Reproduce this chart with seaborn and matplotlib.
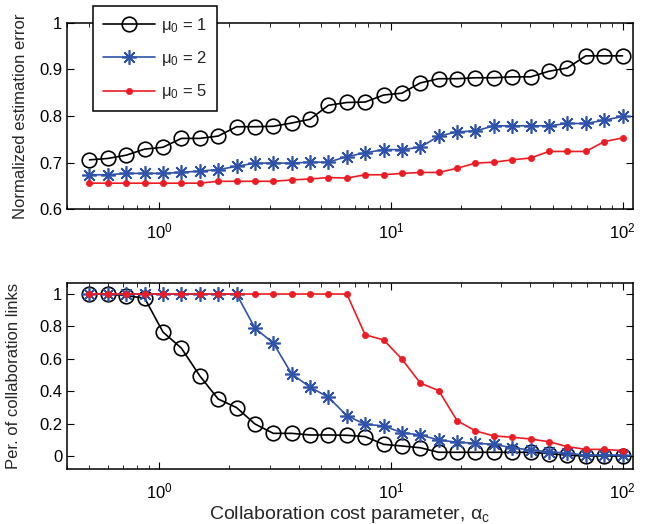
import numpy as np
import pandas as pd
import matplotlib
import matplotlib.pyplot as plt
import seaborn as sns
matplotlib.use("Agg")

sns.set_style("ticks")
plt.rcParams['font.family'] = ['Liberation Sans', 'DejaVu Sans']
plt.rcParams['mathtext.fontset'] = 'custom'
plt.rcParams['mathtext.rm'] = 'Liberation Sans'
plt.rcParams['mathtext.it'] = 'Liberation Sans:italic'
plt.rcParams['mathtext.sf'] = 'Liberation Sans'

# collaboration cost parameter, 30 log-spaced points from 0.5 to 100
alpha_c = np.logspace(np.log10(0.5), 2, 30)

# normalized estimation error
err_mu1 = [0.706, 0.709, 0.716, 0.729, 0.733, 0.752, 0.752, 0.757, 0.777, 0.777,
           0.778, 0.785, 0.793, 0.823, 0.829, 0.830, 0.845, 0.849, 0.871, 0.880,
           0.880, 0.882, 0.882, 0.884, 0.884, 0.896, 0.903, 0.929, 0.929, 0.929]
err_mu2 = [0.674, 0.674, 0.677, 0.677, 0.677, 0.679, 0.682, 0.685, 0.692, 0.699,
           0.699, 0.699, 0.701, 0.701, 0.713, 0.721, 0.728, 0.728, 0.733, 0.757,
           0.766, 0.768, 0.779, 0.779, 0.779, 0.779, 0.784, 0.784, 0.791, 0.799]
err_mu5 = [0.656, 0.656, 0.656, 0.656, 0.656, 0.656, 0.656, 0.660, 0.660, 0.660,
           0.660, 0.663, 0.665, 0.668, 0.667, 0.674, 0.674, 0.677, 0.679, 0.679,
           0.688, 0.699, 0.701, 0.706, 0.710, 0.724, 0.724, 0.724, 0.745, 0.753]

# percentage of collaboration links
links_mu1 = [1.0, 1.0, 0.99, 0.975, 0.765, 0.666, 0.495, 0.352, 0.299, 0.198,
             0.140, 0.140, 0.130, 0.130, 0.128, 0.120, 0.072, 0.062, 0.051, 0.023,
             0.023, 0.023, 0.023, 0.023, 0.023, 0.015, 0.005, 0.0, 0.0, 0.0]
links_mu2 = [1.0, 1.0, 1.0, 1.0, 1.0, 1.0, 1.0, 1.0, 1.0, 0.79,
             0.697, 0.507, 0.425, 0.363, 0.249, 0.196, 0.186, 0.144, 0.130, 0.099,
             0.085, 0.079, 0.072, 0.051, 0.037, 0.027, 0.017, 0.006, 0.006, 0.006]
links_mu5 = [1.0, 1.0, 1.0, 1.0, 1.0, 1.0, 1.0, 1.0, 1.0, 1.0,
             1.0, 1.0, 1.0, 1.0, 1.0, 0.748, 0.717, 0.598, 0.450, 0.404,
             0.218, 0.155, 0.124, 0.116, 0.105, 0.088, 0.058, 0.041, 0.041, 0.033]

labels = [r'$\mathrm{\mu}_0$ = 1', r'$\mathrm{\mu}_0$ = 2', r'$\mathrm{\mu}_0$ = 5']
colors = ['black', '#2f52aa', '#ec1c24']
styles = [
    dict(marker='o', markersize=10.5, markerfacecolor='none', markeredgewidth=1.2),
    dict(marker=(8, 2, 0), markersize=10.5, markeredgewidth=1.2),
    dict(marker='o', markersize=4.5, markeredgewidth=0.5),
]

fig = plt.figure(figsize=(6.47, 5.24), dpi=100)
ax1 = fig.add_axes([0.1036, 0.6006, 0.8748, 0.356])
ax2 = fig.add_axes([0.1036, 0.105, 0.8748, 0.3555])

for ys, lab, c, st in zip([err_mu1, err_mu2, err_mu5], labels, colors, styles):
    sns.lineplot(x=alpha_c, y=ys, ax=ax1, label=lab, linewidth=1.2, color=c,
                 markeredgecolor=c, **st)
for ys, c, st in zip([links_mu1, links_mu2, links_mu5], colors, styles):
    sns.lineplot(x=alpha_c, y=ys, ax=ax2, linewidth=1.2, legend=False, color=c,
                 markeredgecolor=c, **st)

for ax in (ax1, ax2):
    ax.set_xscale('log')
    ax.set_xlim(0.4, 111)
    for s in ax.spines.values():
        s.set_visible(True)
        s.set_linewidth(1.1)
        s.set_color('black')
    ax.tick_params(which='both', direction='in', top=True, right=True,
                   labelsize=12, colors='black')
    ax.tick_params(which='major', length=5)
    ax.tick_params(which='minor', length=3)
    ax.tick_params(axis='x', pad=9)
    ax.set_xticks([1, 10, 100])
    ax.set_xticklabels([r'$10^0$', r'$10^1$', r'$10^2$'])

ax1.set_ylim(0.6, 1.0)
ax1.set_yticks([0.6, 0.7, 0.8, 0.9, 1.0])
ax1.set_yticklabels(['0.6', '0.7', '0.8', '0.9', '1'])
ax1.set_ylabel('Normalized estimation error', fontsize=12)
ax1.yaxis.set_label_coords(-0.069, 0.5)

ax2.set_ylim(-0.08, 1.07)
ax2.set_yticks([0, 0.2, 0.4, 0.6, 0.8, 1.0])
ax2.set_yticklabels(['0', '0.2', '0.4', '0.6', '0.8', '1'])
ax2.set_ylabel('Per. of collaboration links', fontsize=12)
ax2.yaxis.set_label_coords(-0.081, 0.5)
ax2.set_xlabel(r'Collaboration cost parameter, $\mathrm{\alpha}_\mathrm{c}$',
               fontsize=14, labelpad=2)

leg = ax1.legend(loc='upper left', bbox_to_anchor=(0.1437, 0.9885),
                 bbox_transform=fig.transFigure, borderaxespad=0, fontsize=12,
                 numpoints=1, handlelength=3.1, handletextpad=0.4,
                 labelspacing=0.85, borderpad=0.6,
                 fancybox=False, framealpha=1, edgecolor='black')
leg.get_frame().set_linewidth(1.1)
leg.set_zorder(10)

fig.savefig('out.png', dpi=100)
